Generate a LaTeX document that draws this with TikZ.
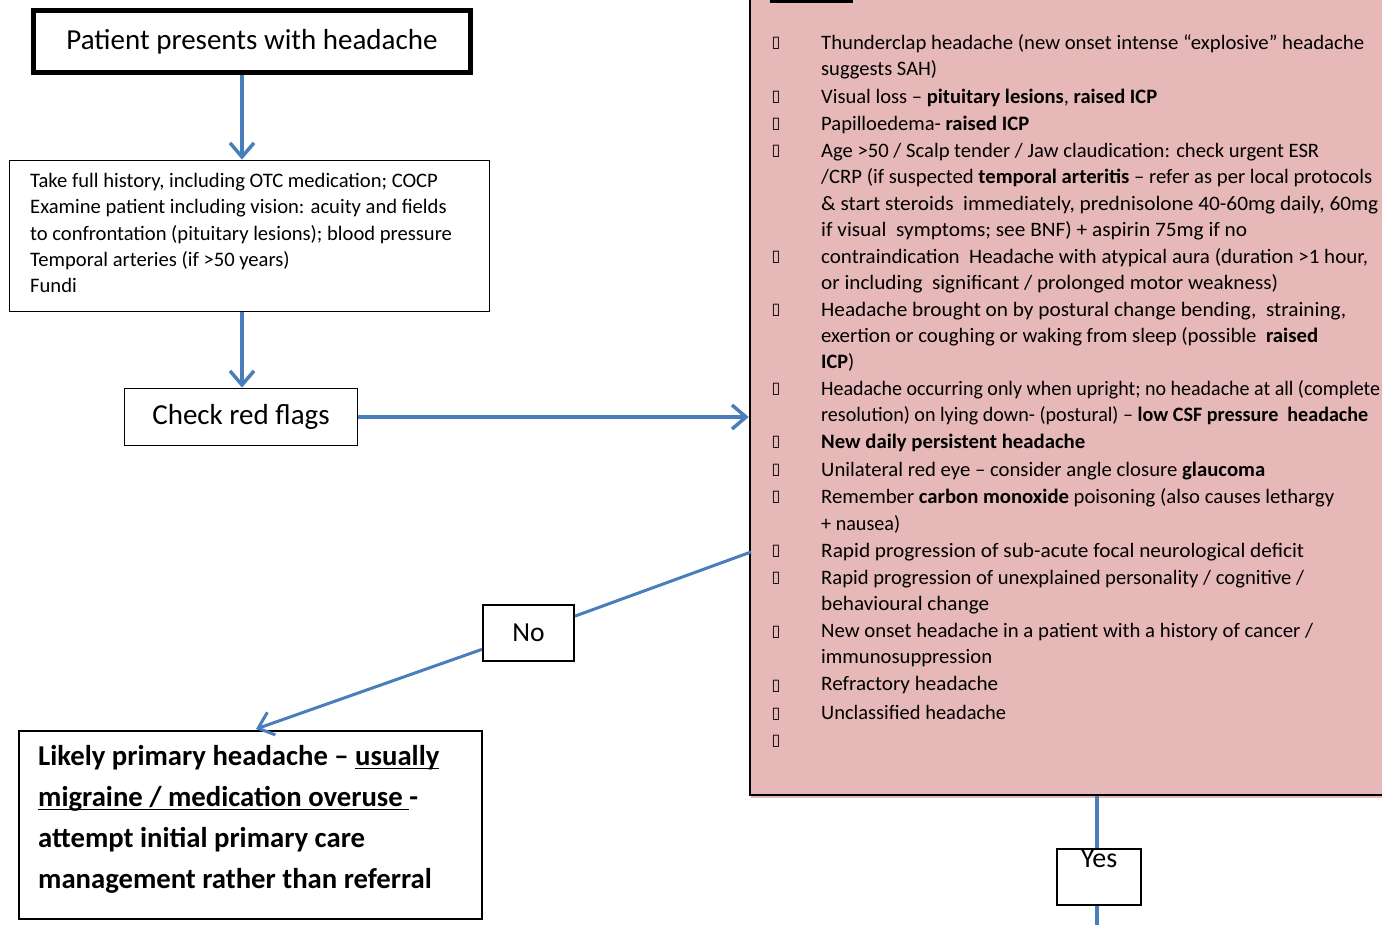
\documentclass[tikz,border=0pt]{standalone}
\usepackage{fontspec}
\usepackage{graphicx}
\setmainfont{Carlito}
\newfontfamily\dejavu{DejaVu Sans}
\usetikzlibrary{arrows.meta}
\definecolor{flowblue}{HTML}{4A7EBB}
\definecolor{flagpink}{HTML}{E6B8B7}
\newcommand{\blt}{{\dejavu\fontsize{16}{18}\selectfont ▯}}
\newlength\myulw
\newcommand{\myuline}[1]{\settowidth{\myulw}{#1}\rlap{\rule[-4.2pt]{\myulw}{1.7pt}}#1}
% fit a line to the width it has in the picture
\newcommand{\fitw}[2]{\resizebox{#1pt}{\height}{#2}}
\begin{document}
\begin{tikzpicture}[x=1pt,y=-1pt,
  conn/.style={draw=flowblue, line width=3.5pt},
  arr/.style={conn, -{Straight Barb[length=14pt,width=24pt]}},
  frame/.style={draw=black, fill=white, line width=1.8pt, inner sep=0pt},
  bigtxt/.style={font=\fontsize{29}{34}\selectfont},
  lt/.style={anchor=base west, inner sep=0pt, font=\fontsize{20.5}{24}\selectfont},
  ht/.style={anchor=base west, inner sep=0pt, font=\fontsize{20.6}{25}\selectfont},
  bt/.style={anchor=base west, inner sep=0pt, font=\fontsize{28.7}{34}\selectfont\bfseries},
  bl/.style={anchor=center, inner sep=0pt},
]
\useasboundingbox (0,0) rectangle (1382,925);
\clip (0,0) rectangle (1382,925);
\fill[white] (0,0) rectangle (1382,925);
\coordinate (axis) at (242,0);

% red flags box
\fill[flagpink] (751,0) rectangle (1382,797.5);
\node[draw=black, fill=flagpink, line width=2.6pt, minimum width=645pt, minimum height=815pt, inner sep=0pt] (rf) at (1072.5,387.5) {};
\fill[black] (770,0) rectangle (853,3.5);

% start box
\node[frame, line width=5pt, minimum width=437pt, minimum height=62pt, bigtxt] (start) at (252,41.5) {Patient presents with headache};

% history box
\node[frame, line width=1.8pt, minimum width=480pt, minimum height=151pt] (hist) at (249.5,236) {};
\node[ht] (h1) at (30,188) {Take full history, including OTC medication; COCP};
\node[ht] (h2) at (30,214) {Examine patient including vision: acuity and fields};
\node[ht] (h3) at (30,241) {to confrontation (pituitary lesions); blood pressure};
\node[ht] (h4) at (30,267) {Temporal arteries (if >50 years)};
\node[ht] (h5) at (30,293) {Fundi};

% check box
\node[frame, minimum width=233pt, minimum height=57pt, bigtxt] (check) at (241,417) {Check red flags};

% likely box
\node[frame, line width=2.4pt, minimum width=463pt, minimum height=188pt] (likely) at (250.5,825) {};
\node[bt] (l1) at (38,765) {Likely primary headache – \myuline{usually}};
\node[bt] (l2) at (38,806) {\myuline{migraine / medication overuse\ }-};
\node[bt] (l3) at (38,847) {attempt initial primary care};
\node[bt] (l4) at (38,888) {management rather than referral};

% connectors
\draw[arr] (start.south -| axis) -- (hist.north -| axis);
\draw[arr] (hist.south -| axis) -- (check.north -| axis);
\draw[arr] (check.east) -- (check.east -| rf.west);
\coordinate (rfout) at (751,552);
\coordinate (lkin) at (256,729);
\node[frame, line width=2pt, minimum width=91pt, minimum height=56pt, font=\fontsize{27.5}{32}\selectfont] (no) at (528.5,633) {No};
\draw[conn, line width=3pt] (rfout) -- (no);
\draw[arr, line width=3pt] (no) -- (lkin);

% yes box
\coordinate (yx) at (1097,0);
\coordinate (bottom) at (1097,935);
\node[frame, line width=2pt, minimum width=84pt, minimum height=56pt] (yes) at (1099,877) {};
\node[inner sep=0pt, font=\fontsize{28}{32}\selectfont] (yest) at (1099,859) {Yes};
\draw[conn] (rf.south -| yx) -- (yes.north -| yx);
\draw[conn] (yes.south -| yx) -- (bottom);

% red flag list
\node[bl] (b1) at (776,43) {\blt};
\node[lt] (t1) at (821,49.5) {\fitw{543}{Thunderclap headache (new onset intense “explosive” headache}};
\node[lt] (t2) at (821,75.5) {\fitw{116}{suggests SAH)}};
\node[bl] (b2) at (776,97) {\blt};
\node[lt] (t3) at (821,103.5) {\fitw{336}{Visual loss – \textbf{pituitary lesions}, \textbf{raised ICP}}};
\node[bl] (b3) at (776,124) {\blt};
\node[lt] (t4) at (821,130.5) {\fitw{208}{Papilloedema- \textbf{raised ICP}}};
\node[bl] (b4) at (776,151) {\blt};
\node[lt] (t5) at (821,157.5) {\fitw{498}{Age >50 / Scalp tender / Jaw claudication: check urgent ESR}};
\node[lt] (t6) at (821,183.5) {\fitw{551}{/CRP (if suspected \textbf{temporal arteritis} – refer as per local protocols}};
\node[lt] (t7) at (821,210.5) {\fitw{557}{\& start steroids\ \ immediately, prednisolone 40-60mg daily, 60mg}};
\node[lt] (t8) at (821,236.5) {\fitw{426}{if visual\ \ symptoms; see BNF) + aspirin 75mg if no}};
\node[bl] (b5) at (776,257) {\blt};
\node[lt] (t9) at (821,263.5) {\fitw{547}{contraindication\ \ Headache with atypical aura (duration >1 hour,}};
\node[lt] (t10) at (821,289.5) {\fitw{457}{or including\ \ significant / prolonged motor weakness)}};
\node[bl] (b6) at (776,310) {\blt};
\node[lt] (t11) at (821,316.5) {\fitw{525}{Headache brought on by postural change bending,\ \ straining,}};
\node[lt] (t12) at (821,342.5) {\fitw{497}{exertion or coughing or waking from sleep (possible\ \ \textbf{raised}}};
\node[lt] (t13) at (821,368.5) {\fitw{33}{\textbf{ICP})}};
\node[bl] (b7) at (776,389) {\blt};
\node[lt] (t14) at (821,395.5) {\fitw{559}{Headache occurring only when upright; no headache at all (complete}};
\node[lt] (t15) at (821,421.5) {\fitw{547}{resolution) on lying down- (postural) – \textbf{low CSF pressure\ \ headache}}};
\node[bl] (b8) at (776,442) {\blt};
\node[lt] (t16) at (821,448.5) {\fitw{264}{\textbf{New daily persistent headache}}};
\node[bl] (b9) at (776,470) {\blt};
\node[lt] (t17) at (821,476.5) {\fitw{444}{Unilateral red eye – consider angle closure \textbf{glaucoma}}};
\node[bl] (b10) at (776,497) {\blt};
\node[lt] (t18) at (821,503.5) {\fitw{513}{Remember \textbf{carbon monoxide} poisoning (also causes lethargy}};
\node[lt] (t19) at (821,530.5) {\fitw{79}{+ nausea)}};
\node[bl] (b11) at (776,551) {\blt};
\node[lt] (t20) at (821,557.5) {\fitw{483}{Rapid progression of sub-acute focal neurological deficit}};
\node[bl] (b12) at (776,578) {\blt};
\node[lt] (t21) at (821,584.5) {\fitw{483}{Rapid progression of unexplained personality / cognitive /}};
\node[lt] (t22) at (821,610.5) {\fitw{168}{behavioural change}};
\node[bl] (b13) at (776,632) {\blt};
\node[lt] (t23) at (821,637.5) {\fitw{492}{New onset headache in a patient with a history of cancer /}};
\node[lt] (t24) at (821,663.5) {\fitw{171}{immunosuppression}};
\node[bl] (b14) at (776,686) {\blt};
\node[lt] (t25) at (821,690.5) {\fitw{177}{Refractory headache}};
\node[bl] (b15) at (776,714) {\blt};
\node[lt] (t26) at (821,719.5) {\fitw{185}{Unclassified headache}};
\node[bl] (b16) at (776,741) {\blt};
\end{tikzpicture}
\end{document}
